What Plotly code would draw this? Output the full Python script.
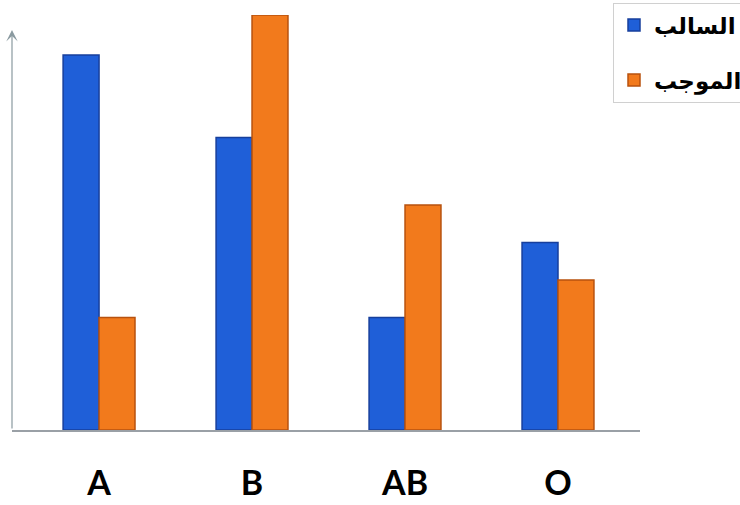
import plotly.graph_objects as go

categories = ["A", "B", "AB", "O"]
negative = [10.0, 7.8, 3.0, 5.0]
positive = [3.0, 11.07, 6.0, 4.0]
series_names = ["السالب", "الموجب"]

blue = "#1f5fd8"
orange = "#f27a1c"

fig = go.Figure()
fig.add_trace(go.Bar(x=categories, y=negative, name=series_names[0], legendgroup="g1",
                     marker=dict(color=blue, line=dict(color="#173f9c", width=1.5)),
                     cliponaxis=False))
fig.add_trace(go.Bar(x=categories, y=positive, name=series_names[1], legendgroup="g2",
                     marker=dict(color=orange, line=dict(color="#b8520e", width=1.5)),
                     cliponaxis=False))

x0 = -0.569
ytop = 10.67
fig.add_annotation(x=x0, y=ytop, ax=x0, ay=0, xref="x", yref="y", axref="x", ayref="y",
                   showarrow=True, arrowhead=3, arrowsize=1.6, arrowwidth=1.2,
                   arrowcolor="#8a9aa0", text="")

fig.update_layout(
    width=740, height=505,
    margin=dict(l=12, r=100, t=15, b=75, autoexpand=False),
    paper_bgcolor="white", plot_bgcolor="rgba(0,0,0,0)",
    barmode="group", bargap=0.53, bargroupgap=0,
    showlegend=True,
    legend=dict(x=613/740, y=0.995, xanchor="left", yanchor="top", xref="container", yref="container",
                bgcolor="white", bordercolor="#d0d0d0", borderwidth=1,
                font=dict(family="DejaVu Sans", size=23, color="black", weight="bold"),
                tracegroupgap=22, itemwidth=30),
    xaxis=dict(range=[x0, 3.536], showline=True, linecolor="#9aa0a6", linewidth=1.5,
               showgrid=False, zeroline=False, ticks="", ticklabelstandoff=22, automargin=False,
               tickfont=dict(family="Lato", size=34, color="black", weight="bold")),
    yaxis=dict(range=[0, 11.07], showline=False, showgrid=False, zeroline=False,
               showticklabels=False, ticks="", automargin=False),
)

fig.write_html("out.html")
